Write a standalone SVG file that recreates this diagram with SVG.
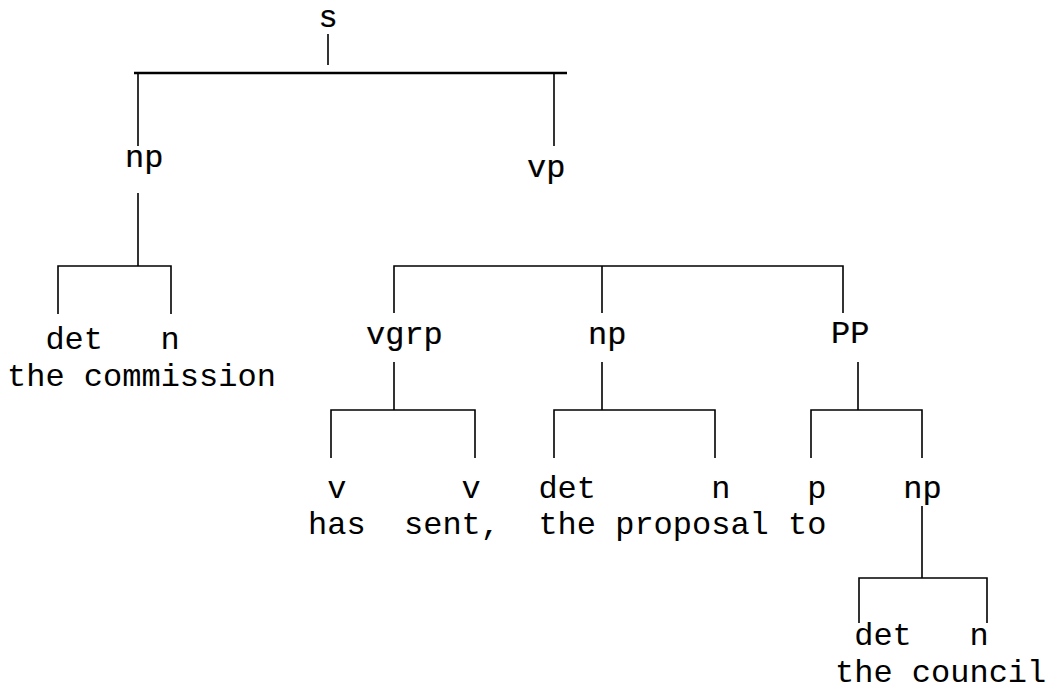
<svg xmlns="http://www.w3.org/2000/svg" width="1053" height="691" viewBox="0 0 1053 691">
<style>
text{font-family:"Liberation Mono","Courier New",monospace;font-size:32px;fill:#000}
.cat{stroke:#000;stroke-width:0.2}
.ln{stroke:#000;stroke-width:1.6;fill:none}
.bar{stroke:#000;stroke-width:2.4;fill:none}
</style>
<rect width="1053" height="691" fill="#fff"/>
<g id="connectors">
<line class="ln" x1="328" y1="34" x2="328" y2="65"/>
<line class="bar" x1="134" y1="73" x2="567" y2="73"/>
<line class="ln" x1="138" y1="73" x2="138" y2="146"/>
<line class="ln" x1="554" y1="73" x2="554" y2="146"/>
<path class="ln" d="M138 193V266M58 314V266H171V314"/>
<path class="ln" d="M394 313V266H843V313M602 266V313"/>
<path class="ln" d="M394 362V410M331 458V410H475V458"/>
<path class="ln" d="M602 362V410M554 458V410H715V458"/>
<path class="ln" d="M858 362V410M811 458V410H922V458"/>
<path class="ln" d="M922 506V578M859 623V578H987V623"/>
</g>
<g id="node-s"><text class="cat" x="318.4" y="27">s</text></g>
<g id="node-np1"><text class="cat" x="125" y="167">np</text></g>
<g id="node-vp"><text class="cat" x="527" y="177">vp</text></g>
<g id="node-det1"><text x="45.4" y="349">det</text></g>
<g id="node-n1"><text x="160.6" y="349">n</text></g>
<g id="words1"><text x="7" y="386">the commission</text></g>
<g id="node-vgrp"><text class="cat" x="366" y="344">vgrp</text></g>
<g id="node-np2"><text class="cat" x="588" y="344">np</text></g>
<g id="node-pp"><text class="cat" x="831" y="343">PP</text></g>
<g id="node-v1"><text x="327.2" y="498">v</text></g>
<g id="node-v2"><text x="461.6" y="498">v</text></g>
<g id="node-det2"><text x="538.4" y="498">det</text></g>
<g id="node-n2"><text x="711.2" y="498">n</text></g>
<g id="node-p"><text x="807.2" y="498">p</text></g>
<g id="node-np3"><text class="cat" x="903.2" y="498">np</text></g>
<g id="words2">
<text x="308" y="534">has</text>
<text x="404" y="534">sent,</text>
<text x="538.4" y="534">the</text>
<text x="615.2" y="534">proposal</text>
<text x="788" y="534">to</text>
</g>
<g id="node-det3"><text x="854.2" y="645">det</text></g>
<g id="node-n3"><text x="969.4" y="645">n</text></g>
<g id="words3"><text x="835" y="681.5">the council</text></g>
</svg>
